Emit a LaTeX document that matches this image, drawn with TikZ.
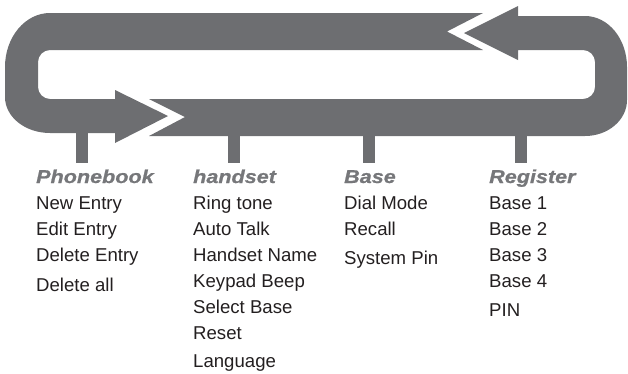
\documentclass[tikz,border=0pt]{standalone}
\usepackage{fontspec}
\setmainfont{Liberation Sans}
\newfontfamily\headfont[FakeStretch=1.16,FakeBold=0.8]{Liberation Sans}
\definecolor{loopgray}{HTML}{6D6E71}
\definecolor{headgray}{HTML}{76777A}
\definecolor{itemblack}{HTML}{231F20}
\tikzset{
  band/.style={fill=loopgray, draw=none},
  item/.style={anchor=base west, inner sep=0pt, text=itemblack, font=\fontsize{18.6}{20}\selectfont},
  head/.style={anchor=base west, inner sep=0pt, text=headgray, font=\headfont\bfseries\itshape\fontsize{18.6}{20}\selectfont},
}
\begin{document}
\begin{tikzpicture}[x=1pt,y=-1pt]
\useasboundingbox (0,0) rectangle (628,373);
% left piece: top-left bar, left bend, bottom-left bar with arrow
\fill[band] (483,13) -- (50,13)
  .. controls (25.1,13) and (5,37.2) .. (5,67) -- (5,97)
  .. controls (5,116.9) and (25.1,133) .. (50,133) -- (115,133)
  -- (115,143) -- (168,116) -- (115,90) -- (115,99) -- (50,99)
  .. controls (43.4,99) and (38,93.6) .. (38,87) -- (38,62)
  .. controls (38,55.4) and (43.4,50) .. (50,50) -- (483,50)
  -- (447,31.5) -- cycle;
% right piece: bottom-right bar, right bend, top-right bar with arrow
\fill[band] (149,99) -- (185,117) -- (149,136) -- (585,136)
  .. controls (608.2,136) and (627,119.9) .. (627,100) -- (627,67)
  .. controls (627,38.8) and (608.2,16) .. (585,16) -- (518,16)
  -- (518,6) -- (464,33) -- (518,60) -- (518,50) -- (583,50)
  .. controls (589.6,50) and (595,55.4) .. (595,62) -- (595,87)
  .. controls (595,93.6) and (589.6,99) .. (583,99) -- cycle;
% stems
\fill[band] (75.5,132) rectangle (87.5,163);
\fill[band] (228,135) rectangle (240,163);
\fill[band] (363,135) rectangle (375,163);
\fill[band] (515,135) rectangle (527,163);
% column 1
\node[head] (h1) at (36,183) {Phonebook};
\node[item] (p1) at (36,209) {New Entry};
\node[item] (p2) at (36,235) {Edit Entry};
\node[item] (p3) at (36,261) {Delete Entry};
\node[item] (p4) at (36,291) {Delete all};
% column 2
\node[head] (h2) at (193,183) {handset};
\node[item] (s1) at (193,209) {Ring tone};
\node[item] (s2) at (193,235) {Auto Talk};
\node[item] (s3) at (193,261) {Handset Name};
\node[item] (s4) at (193,287) {Keypad Beep};
\node[item] (s5) at (193,313) {Select Base};
\node[item] (s6) at (193,339) {Reset};
\node[item] (s7) at (193,367) {Language};
% column 3
\node[head] (h3) at (344,183) {Base};
\node[item] (b1) at (344,209) {Dial Mode};
\node[item] (b2) at (344,235) {Recall};
\node[item] (b3) at (344,264) {System Pin};
% column 4
\node[head] (h4) at (489,183) {Register};
\node[item] (r1) at (489,209) {Base 1};
\node[item] (r2) at (489,235) {Base 2};
\node[item] (r3) at (489,261) {Base 3};
\node[item] (r4) at (489,287) {Base 4};
\node[item] (r5) at (489,316) {PIN};
\end{tikzpicture}
\end{document}
